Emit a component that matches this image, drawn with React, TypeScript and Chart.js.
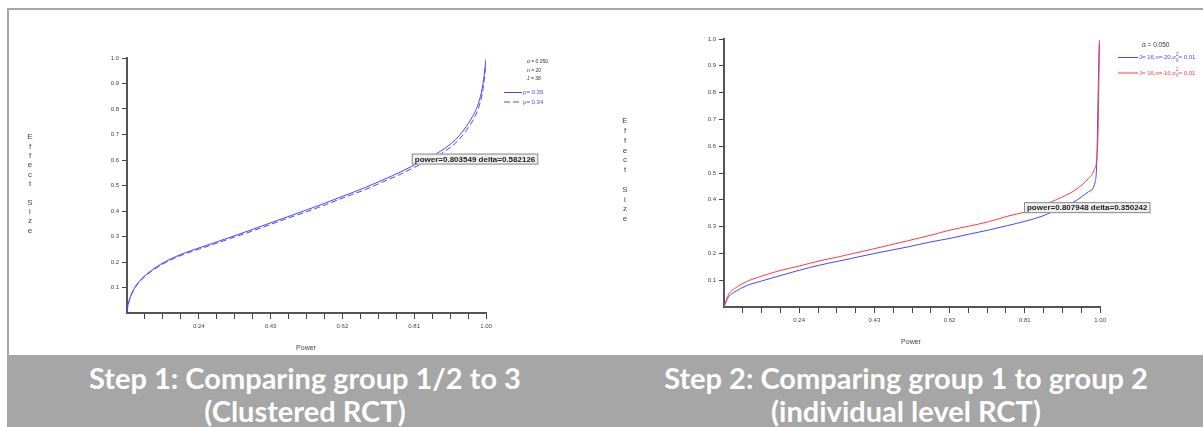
import React, { useEffect, useRef } from "react";
import { Chart, registerables } from "chart.js";
Chart.register(...registerables);

// ---------- axis ticks ----------
const xTickValues = [0.05, 0.0975, 0.145, 0.1925, 0.24, 0.2875, 0.335, 0.3825, 0.43, 0.4775, 0.525, 0.5725, 0.62, 0.6675, 0.715, 0.7625, 0.81, 0.8575, 0.905, 0.9525, 1.0];
const xTickLabels = ["", "", "", "", "0.24", "", "", "", "0.43", "", "", "", "0.62", "", "", "", "0.81", "", "", "", "1.00"];
const yTickValues = [0, 0.1, 0.2, 0.3, 0.4, 0.5, 0.6, 0.7, 0.8, 0.9, 1.0];
const yTickLabels = ["", "0.1", "0.2", "0.3", "0.4", "0.5", "0.6", "0.7", "0.8", "0.9", "1.0"];

// ---------- Step 1 (clustered RCT) ----------
const step1Power = [0.05, 0.052, 0.056, 0.062, 0.07, 0.08, 0.095, 0.115, 0.14, 0.17, 0.2, 0.24, 0.282, 0.323, 0.373, 0.431, 0.474, 0.525, 0.576, 0.621, 0.677, 0.727, 0.778, 0.81, 0.848, 0.879, 0.909, 0.929, 0.949, 0.97, 0.98, 0.99, 0.995, 1.0];
const step1DeltaRho35 = [0, 0.025, 0.05, 0.075, 0.098, 0.12, 0.143, 0.167, 0.192, 0.215, 0.234, 0.255, 0.276, 0.297, 0.323, 0.354, 0.377, 0.404, 0.432, 0.458, 0.49, 0.522, 0.556, 0.58, 0.608, 0.634, 0.666, 0.695, 0.734, 0.786, 0.822, 0.881, 0.93, 0.995];
const step1DeltaRho34 = [0, 0.024, 0.049, 0.073, 0.096, 0.117, 0.14, 0.164, 0.188, 0.211, 0.23, 0.25, 0.271, 0.292, 0.317, 0.348, 0.371, 0.397, 0.425, 0.451, 0.482, 0.514, 0.547, 0.571, 0.598, 0.623, 0.653, 0.681, 0.718, 0.768, 0.803, 0.86, 0.912, 0.985];
const step1Annotation = { power: 0.803549, delta: 0.582126 };
const step1Params = ["α = 0.050", "n = 20", "J = 38"];
const step1SeriesLabels = ["ρ= 0.35", "ρ= 0.34"];

// ---------- Step 2 (individual level RCT) ----------
const step2PowerBlue = [0.05, 0.054, 0.063, 0.077, 0.106, 0.145, 0.194, 0.24, 0.291, 0.339, 0.431, 0.514, 0.573, 0.621, 0.67, 0.718, 0.767, 0.811, 0.854, 0.903, 0.942, 0.971, 0.988, 0.992, 0.995, 0.998];
const step2DeltaBlue = [0, 0.015, 0.04, 0.056, 0.079, 0.097, 0.118, 0.137, 0.156, 0.171, 0.2, 0.224, 0.243, 0.256, 0.272, 0.287, 0.304, 0.32, 0.339, 0.372, 0.399, 0.43, 0.468, 0.549, 0.773, 0.985];
const step2PowerRed = [0.05, 0.054, 0.063, 0.077, 0.106, 0.145, 0.194, 0.24, 0.291, 0.339, 0.431, 0.514, 0.573, 0.621, 0.67, 0.718, 0.767, 0.811, 0.854, 0.903, 0.942, 0.971, 0.985, 0.992, 0.995, 0.997, 0.999];
const step2DeltaRed = [0, 0.019, 0.05, 0.069, 0.094, 0.115, 0.137, 0.153, 0.172, 0.187, 0.218, 0.247, 0.268, 0.287, 0.302, 0.318, 0.339, 0.355, 0.38, 0.409, 0.441, 0.48, 0.511, 0.555, 0.648, 0.835, 0.995];
const step2Annotation = { power: 0.807948, delta: 0.350242 };
const step2Params = ["α = 0.050"];
const step2SeriesLabels = [
  { base: "J= 16,n= 20,σ", sup: "2", sub: "δ", tail: "= 0.01" },
  { base: "J= 16,n= 16,σ", sup: "2", sub: "δ", tail: "= 0.01" },
];

const captions = [
  ["Step 1: Comparing group 1/2 to 3", "(Clustered RCT)"],
  ["Step 2: Comparing group 1 to group 2", "(individual level RCT)"],
];

const AXIS_TITLE_Y = "Effect Size";
const AXIS_TITLE_X = "Power";

const BLUE = "rgb(70,70,255)";
const RED = "rgb(255,60,60)";
const FONT = "Liberation Sans, Arial, sans-serif";

const toPts = (xs: number[], ys: number[]) => xs.map((x, i) => ({ x, y: ys[i] }));

const overlayPlugin = {
  id: "overlay",
  afterDraw(chart: any, _a: any, o: any) {
    const ctx: CanvasRenderingContext2D = chart.ctx;
    ctx.save();
    ctx.fillStyle = "#444";
    ctx.font = `8px ${FONT}`;
    ctx.textAlign = "center";
    ctx.textBaseline = "middle";
    const chars = AXIS_TITLE_Y.split("");
    chars.forEach((c, i) => {
      if (c !== " ") ctx.fillText(c, o.yLabel.x, o.yLabel.y0 + i * o.yLabel.step);
    });
    ctx.font = `7px ${FONT}`;
    ctx.fillText(AXIS_TITLE_X, o.xLabel.x, o.xLabel.y);
    ctx.textAlign = "left";
    ctx.fillStyle = "#333";
    ctx.font = `${o.paramFont}px ${FONT}`;
    o.params.forEach((t: string, i: number) => {
      ctx.fillText(t, o.paramX, o.paramY0 + i * o.paramStep);
    });
    o.series.forEach((s: any) => {
      ctx.strokeStyle = s.color;
      ctx.lineWidth = 1;
      ctx.setLineDash(s.dash);
      ctx.beginPath();
      ctx.moveTo(s.x1, s.y);
      ctx.lineTo(s.x2, s.y);
      ctx.stroke();
      ctx.setLineDash([]);
      ctx.fillStyle = s.color;
      ctx.textBaseline = "middle";
      ctx.font = `6px ${FONT}`;
      if (typeof s.label === "string") {
        ctx.fillText(s.label, s.x2 + 1, s.y);
      } else {
        let x = s.x2 + 1;
        ctx.fillText(s.label.base, x, s.y);
        x += ctx.measureText(s.label.base).width;
        ctx.font = `4.5px ${FONT}`;
        ctx.fillText(s.label.sup, x, s.y - 3);
        ctx.fillText(s.label.sub, x, s.y + 3);
        x += Math.max(ctx.measureText(s.label.sup).width, ctx.measureText(s.label.sub).width);
        ctx.font = `6px ${FONT}`;
        ctx.fillText(s.label.tail, x, s.y);
      }
    });
    const px = chart.scales.x.getPixelForValue(o.ann.power);
    const py = chart.scales.y.getPixelForValue(o.ann.delta);
    const text = `power=${o.ann.power.toFixed(6)} delta=${o.ann.delta.toFixed(6)}`;
    ctx.font = `bold 8px ${FONT}`;
    const w = ctx.measureText(text).width + 6;
    const h = 11;
    ctx.fillStyle = "#efefef";
    ctx.fillRect(px, py - h, w, h);
    ctx.strokeStyle = "#8a8a8a";
    ctx.lineWidth = 1;
    ctx.strokeRect(px + 0.5, py - h + 0.5, w - 1, h - 1);
    ctx.fillStyle = "#222";
    ctx.textBaseline = "middle";
    ctx.fillText(text, px + 3, py - h / 2 + 0.5);
    ctx.restore();
  },
};

function makeScales(yWidth: number, xHeight: number) {
  const tickFont = { family: FONT, size: 6 };
  return {
    x: {
      type: "linear",
      min: 0.05,
      max: 1.0,
      afterBuildTicks: (s: any) => {
        s.ticks = xTickValues.map((v) => ({ value: v }));
      },
      afterFit: (s: any) => {
        s.height = xHeight;
      },
      ticks: {
        autoSkip: false,
        maxRotation: 0,
        minRotation: 0,
        color: "#444",
        font: tickFont,
        padding: 4,
        callback: (_v: any, i: number) => xTickLabels[i],
      },
      grid: {
        drawOnChartArea: false,
        drawTicks: true,
        tickLength: 6,
        lineWidth: 1,
        tickColor: (c: any) => (c.index === 0 ? "rgba(0,0,0,0)" : "#444"),
      },
      border: { display: true, color: "#555", width: 2 },
    },
    y: {
      type: "linear",
      min: 0,
      max: 1.0,
      afterBuildTicks: (s: any) => {
        s.ticks = yTickValues.map((v) => ({ value: v }));
      },
      afterFit: (s: any) => {
        s.width = yWidth;
      },
      ticks: {
        autoSkip: false,
        color: "#444",
        font: tickFont,
        padding: 3,
        callback: (_v: any, i: number) => yTickLabels[i],
      },
      grid: {
        drawOnChartArea: false,
        drawTicks: true,
        tickLength: 5,
        lineWidth: 1,
        tickColor: (c: any) => (c.index === 0 ? "rgba(0,0,0,0)" : "#444"),
      },
      border: { display: true, color: "#555", width: 2 },
    },
  };
}

function ChartCanvas(props: { width: number; height: number; left: number; config: any }) {
  const ref = useRef<HTMLCanvasElement | null>(null);
  useEffect(() => {
    if (!ref.current) return;
    const chart = new Chart(ref.current, props.config);
    return () => chart.destroy();
  }, []);
  return (
    <canvas
      ref={ref}
      width={props.width}
      height={props.height}
      style={{ position: "absolute", left: props.left, top: 0, width: props.width, height: props.height }}
    />
  );
}

const lineDefaults = { pointRadius: 0, borderWidth: 1, fill: false, cubicInterpolationMode: "monotone" };

const config1 = {
  type: "line",
  data: {
    datasets: [
      { ...lineDefaults, label: step1SeriesLabels[0], data: toPts(step1Power, step1DeltaRho35), borderColor: BLUE },
      { ...lineDefaults, label: step1SeriesLabels[1], data: toPts(step1Power, step1DeltaRho34), borderColor: BLUE, borderDash: [6, 3] },
    ],
  },
  options: {
    animation: false,
    responsive: false,
    devicePixelRatio: 1,
    parsing: false,
    layout: { padding: { left: 87, right: 114, top: 58, bottom: 12 } },
    scales: makeScales(40, 30),
    plugins: {
      legend: { display: false },
      tooltip: { enabled: false },
      overlay: {
        yLabel: { x: 30, y0: 137, step: 9.33 },
        xLabel: { x: 306, y: 348 },
        params: step1Params,
        paramFont: 5,
        paramX: 527,
        paramY0: 62,
        paramStep: 8.5,
        series: [
          { x1: 504, x2: 522, y: 92.5, color: BLUE, dash: [], label: step1SeriesLabels[0] },
          { x1: 504, x2: 522, y: 102, color: BLUE, dash: [6, 3], label: step1SeriesLabels[1] },
        ],
        ann: step1Annotation,
      },
    },
  },
  plugins: [overlayPlugin],
};

const config2 = {
  type: "line",
  data: {
    datasets: [
      { ...lineDefaults, label: "red", data: toPts(step2PowerRed, step2DeltaRed), borderColor: RED },
      { ...lineDefaults, label: "blue", data: toPts(step2PowerBlue, step2DeltaBlue), borderColor: BLUE },
    ],
  },
  options: {
    animation: false,
    responsive: false,
    devicePixelRatio: 1,
    parsing: false,
    layout: { padding: { left: 84, right: 103, top: 39, bottom: 18 } },
    scales: makeScales(40, 30),
    plugins: {
      legend: { display: false },
      tooltip: { enabled: false },
      overlay: {
        yLabel: { x: 25, y0: 121, step: 9.8 },
        xLabel: { x: 311, y: 342 },
        params: step2Params,
        paramFont: 6.5,
        paramX: 542,
        paramY0: 45,
        paramStep: 9,
        series: [
          { x1: 518, x2: 538, y: 57.5, color: BLUE, dash: [], label: step2SeriesLabels[0] },
          { x1: 518, x2: 538, y: 73, color: RED, dash: [], label: step2SeriesLabels[1] },
        ],
        ann: step2Annotation,
      },
    },
  },
  plugins: [overlayPlugin],
};

export default function App() {
  const gray = "#a6a6a6";
  const capStyle: React.CSSProperties = {
    position: "absolute",
    top: 355,
    height: 72,
    overflow: "hidden",
    color: "#fff",
    fontFamily: "Lato, 'Open Sans', sans-serif",
    fontWeight: 700,
    fontSize: 29,
    lineHeight: "33px",
    textAlign: "center",
    paddingTop: 6,
    boxSizing: "border-box",
    whiteSpace: "nowrap",
  };
  return (
    <div style={{ position: "fixed", left: 0, top: 0, width: 1203, height: 427, background: "#fff", overflow: "hidden" }}>
      <div style={{ position: "absolute", left: 7, top: 8, width: 1196, height: 2, background: gray }} />
      <div style={{ position: "absolute", left: 7, top: 8, width: 2, height: 347, background: gray }} />
      <div style={{ position: "absolute", left: 7, top: 355, width: 1196, height: 72, background: gray }} />
      <ChartCanvas width={600} height={355} left={0} config={config1} />
      <ChartCanvas width={603} height={355} left={600} config={config2} />
      <div style={{ ...capStyle, left: 7, width: 596 }}>
        <div>{captions[0][0]}</div>
        <div>{captions[0][1]}</div>
      </div>
      <div style={{ ...capStyle, left: 609, width: 594 }}>
        <div>{captions[1][0]}</div>
        <div>{captions[1][1]}</div>
      </div>
    </div>
  );
}
